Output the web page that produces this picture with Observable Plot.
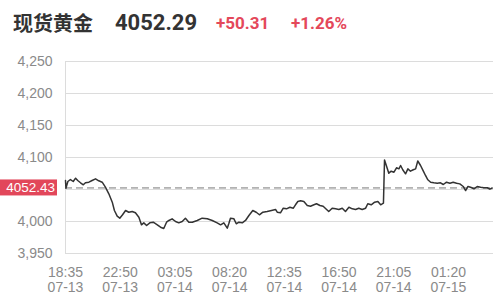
<!DOCTYPE html>
<html><head><meta charset="utf-8">
<script src="https://cdn.jsdelivr.net/npm/d3@7"></script>
<script src="https://cdn.jsdelivr.net/npm/@observablehq/plot@0.6"></script>
<style>
body{margin:0;background:#fff;width:500px;height:295px;overflow:hidden}
#hdr{position:relative;height:45px}
#hdr span{position:absolute;top:10px;line-height:26px;white-space:nowrap;font-weight:bold}
#name{left:13px;font-size:20px;color:#333;font-family:"Noto Sans CJK SC",sans-serif}
#last{left:115px;font-size:22px;color:#333;font-family:Roboto,"Liberation Sans",sans-serif}
#chg{left:216px;font-size:17px;color:#e4485a;font-family:Roboto,"Liberation Sans",sans-serif}
#pct{left:291px;font-size:17px;color:#e4485a;font-family:Roboto,"Liberation Sans",sans-serif}
</style></head><body>
<div id="hdr"><span id="name"></span><span id="last"></span><span id="chg"></span><span id="pct"></span></div>
<div id="chart"></div>
<script>
const titleName = "现货黄金";
const lastPrice = "4052.29";
const change = "+50.31";
const changePct = "+1.26%";
const refPrice = 4052.43;

const minuteIndex = [0,2,11,23,36,47,57,70,83,93,109,124,140,155,171,186,202,218,228,241,253,266,280,295,311,326,342,354,365,378,393,409,428,443,458,471,482,497,513,528,544,559,575,591,614,637,661,684,707,723,738,754,761,769,785,796,808,824,839,855,873,889,904,920,940,960,979,987,1002,1015,1030,1046,1062,1072,1083,1096,1111,1127,1142,1158,1170,1186,1201,1217,1227,1243,1259,1274,1290,1305,1321,1337,1352,1367,1383,1399,1409,1425,1441,1456,1469,1482,1487,1492,1507,1518,1531,1543,1554,1562,1572,1585,1596,1608,1621,1632,1642,1655,1668,1678,1689,1702,1717,1733,1748,1761,1776,1792,1807,1823,1838,1854,1865,1876,1888,1904,1919,1935,1950,1966,1978,1989];
const price = [4064.1,4052.0,4062.5,4065.6,4062.5,4067.7,4064.1,4060.5,4057.3,4060.5,4061.4,4064.1,4066.7,4063.6,4061.4,4053.6,4043.3,4030.2,4017.2,4008.3,4005.2,4010.5,4017.2,4014.5,4015.6,4013.6,4006.7,3994.8,3997.9,3993.8,3997.9,3998.9,3994.8,3991.1,3989.1,3998.9,4001.6,4004.2,4000.0,3997.9,4000.0,4005.2,3998.9,3998.9,4001.6,4005.2,4004.2,4001.6,3997.9,3994.8,3997.9,3989.5,3996.4,4005.2,4004.2,3996.4,3998.9,3997.9,4001.6,4009.4,4017.2,4014.5,4010.5,4014.5,4015.6,4017.2,4018.8,4014.5,4013.6,4020.8,4019.8,4022.3,4020.8,4026.1,4031.3,4032.3,4031.3,4025.0,4023.9,4026.1,4027.7,4025.0,4023.9,4018.8,4015.6,4020.8,4019.8,4018.8,4020.8,4015.6,4022.3,4019.8,4018.8,4020.8,4018.8,4020.8,4027.7,4026.1,4030.2,4031.3,4026.1,4028.6,4096.1,4091.1,4075.5,4078.6,4077.0,4083.9,4082.3,4087.5,4080.8,4074.5,4082.3,4078.6,4080.8,4082.3,4094.5,4087.5,4078.6,4071.9,4065.2,4061.4,4060.5,4059.8,4060.5,4057.8,4061.4,4059.8,4061.4,4059.8,4058.8,4054.7,4048.4,4054.7,4053.6,4051.1,4054.7,4053.6,4052.7,4052.7,4050.5,4052.3];

const tickIndex = [0,255,510,765,1020,1275,1530,1785];
const tickTime = ["18:35","22:50","03:05","08:20","12:35","16:50","21:05","01:20"];
const tickDate = ["07-13","07-13","07-14","07-14","07-14","07-14","07-14","07-15"];
const yTicks = [3950,4000,4050,4100,4150,4200,4250];
const yLabelTicks = [3950,4000,4100,4150,4200,4250];

document.getElementById("name").textContent = titleName;
document.getElementById("last").textContent = lastPrice;
document.getElementById("chg").textContent = change;
document.getElementById("pct").textContent = changePct;

const data = minuteIndex.map((m,i)=>({m, p: price[i]}));
const tickLabel = new Map(tickIndex.map((t,i)=>[t, tickTime[i]+"\n"+tickDate[i]]));

const priceTag = (index, scales) => {
  const g = d3.create("svg:g");
  const cy = scales.y(refPrice);
  g.append("rect").attr("x",0).attr("y",cy-8).attr("width",57).attr("height",16).attr("fill","#e2475a");
  g.append("text").attr("x",55).attr("y",cy).attr("dy","0.36em").attr("text-anchor","end")
    .attr("fill","#fff").attr("font-size",13.5).attr("font-family","Liberation Sans, sans-serif").text(refPrice.toFixed(2));
  return g.node();
};

const chart = Plot.plot({
  width: 500,
  height: 250,
  marginLeft: 65,
  marginRight: 7,
  marginTop: 16,
  marginBottom: 42,
  style: {fontFamily: "Liberation Sans, sans-serif", fontSize: "14px", color: "#8a8a8a", background: "#fff"},
  x: {domain: [0, 1995]},
  y: {domain: [3950, 4250]},
  marks: [
    Plot.gridY(yTicks, {stroke: "#dcdcdc", strokeOpacity: 1}),
    Plot.ruleX([0], {stroke: "#dcdcdc"}),
    Plot.axisY(yLabelTicks, {tickSize: 0, tickPadding: 13, tickFormat: d3.format(","), label: null, fill: "#8a8a8a"}),
    Plot.axisX(tickIndex, {tickSize: 0, tickPadding: 13, tickFormat: d => tickLabel.get(d), label: null, fill: "#8a8a8a", lineHeight: 1.05}),
    Plot.ruleY([refPrice], {stroke: "#777", strokeDasharray: "7,4", strokeWidth: 1}),
    Plot.line(data, {x: "m", y: "p", stroke: "#333", strokeWidth: 1.5}),
    priceTag
  ]
});
document.getElementById("chart").appendChild(chart);
</script>
</body></html>
